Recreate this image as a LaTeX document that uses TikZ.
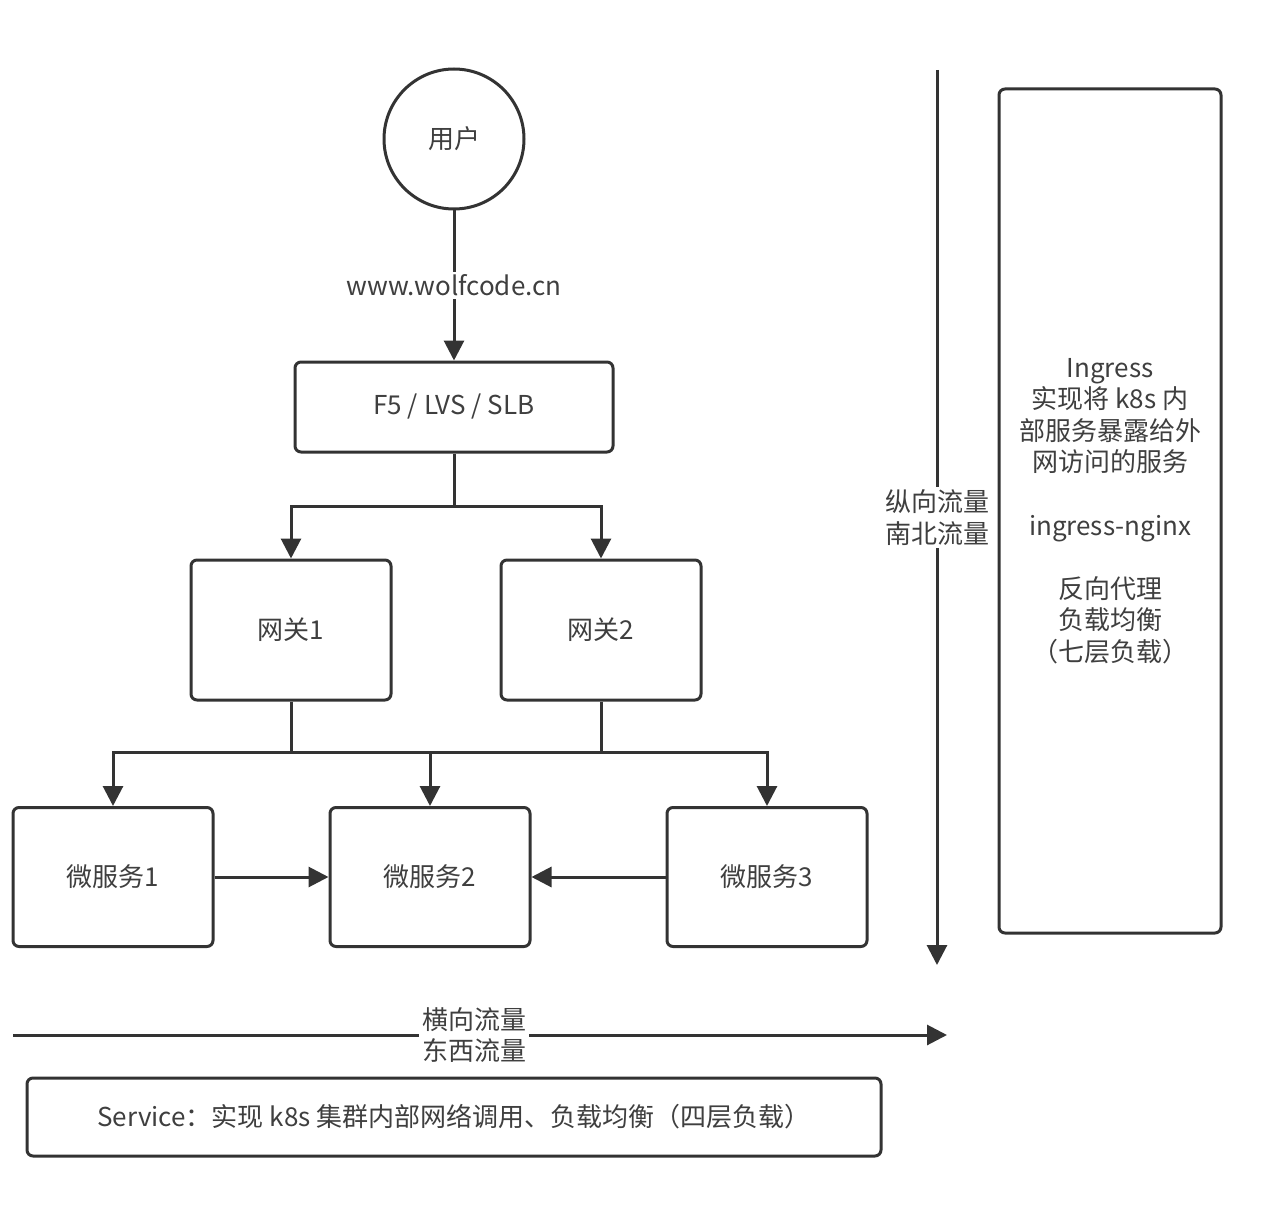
\documentclass[tikz,border=0pt]{standalone}
\usepackage{fontspec}
\setmainfont{Noto Sans CJK SC}
\usetikzlibrary{arrows.meta}
\definecolor{lncol}{HTML}{333333}
\definecolor{txcol}{HTML}{3F3F3F}
\begin{document}
\begin{tikzpicture}[x=0.5pt,y=-0.5pt,
  txt/.style={font=\fontsize{13}{15.8}\selectfont,text=txcol,align=center},
  box/.style={txt,draw=lncol,line width=1.5pt,rounded corners=3pt,fill=white,inner sep=0pt},
  wire/.style={draw=lncol,line width=1.5pt},
  arr/.style={wire,-{Triangle[length=10pt,width=10pt]}},
  lbl/.style={txt,fill=white,inner sep=1.5pt}]
\useasboundingbox (0,0) rectangle (1276,1220);

\node[box,circle,minimum size=70pt] (user) at (454,139) {用户};
\node[box,minimum width=159pt,minimum height=45pt] (f5) at (454,407) {F5 / LVS / SLB};
\node[box,minimum width=100pt,minimum height=70pt] (gw1) at (291,630) {网关1};
\node[box,minimum width=100pt,minimum height=70pt] (gw2) at (601,630) {网关2};
\node[box,minimum width=100pt,minimum height=69.5pt] (ms1) at (113,877) {微服务1};
\node[box,minimum width=100pt,minimum height=69.5pt] (ms2) at (430,877) {微服务2};
\node[box,minimum width=100pt,minimum height=69.5pt] (ms3) at (767,877) {微服务3};
\node[box,minimum width=111pt,minimum height=422pt] (ing) at (1110,511)
  {Ingress\\实现将 k8s 内\\部服务暴露给外\\网访问的服务\\[15.8pt]ingress-nginx\\[15.8pt]反向代理\\负载均衡\\（七层负载）};
\node[box,minimum width=427pt,minimum height=39pt] (svc) at (454,1117)
  {Service：实现 k8s 集群内部网络调用、负载均衡（四层负载）};

\coordinate (j1) at (454,506);
\coordinate (bus1) at (291,752);
\coordinate (bus2) at (601,752);
\coordinate (vtop) at (937,70);
\coordinate (vbot) at (937,965);
\coordinate (hl) at (13,1035);
\coordinate (hr) at (947,1035);

\draw[arr] (user) -- node[lbl] {www.wolfcode.cn} (f5);
\draw[wire] (f5.south) -- (j1);
\draw[arr] (j1) -| (gw1.north);
\draw[arr] (j1) -| (gw2.north);
\draw[wire] (gw1.south) -- (bus1);
\draw[wire] (gw2.south) -- (bus2);
\draw[wire] (bus1) -- (bus2);
\draw[arr] (bus1) -| (ms1.north);
\draw[arr] (bus1) -| (ms2.north);
\draw[arr] (bus2) -| (ms3.north);
\draw[arr] (ms1.east) -- (ms2.west);
\draw[arr] (ms3.west) -- (ms2.east);

\draw[arr] (vtop) -- node[lbl] {纵向流量\\南北流量} (vbot);
\draw[arr] (hl) -- node[lbl,pos=0.494] {横向流量\\东西流量} (hr);
\end{tikzpicture}
\end{document}
